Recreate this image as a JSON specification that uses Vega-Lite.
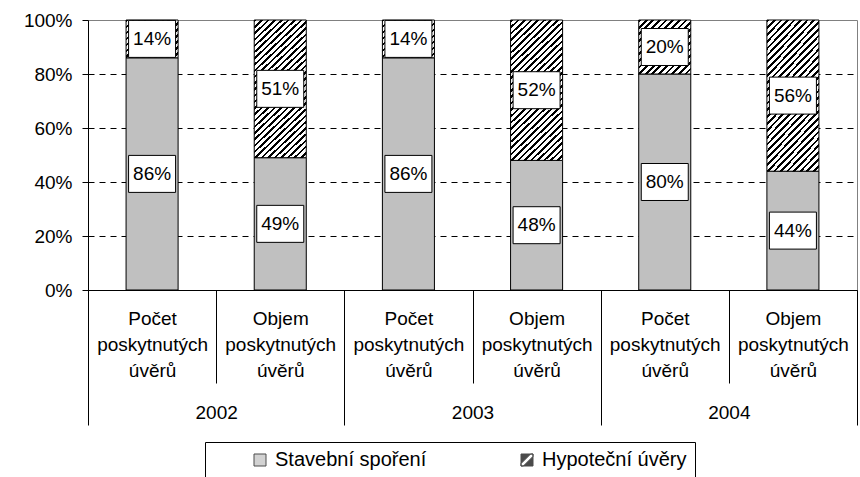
{
  "$schema": "https://vega.github.io/schema/vega-lite/v6.json",
  "width": 769,
  "height": 270,
  "autosize": {"type": "none"},
  "padding": {"left": 88, "top": 20, "right": 3, "bottom": 187},
  "config": {
    "view": {"stroke": "#808080"},
    "font": "Liberation Sans",
    "text": {"font": "Liberation Sans"}
  },
  "data": {
    "values": [
      {"year": "2002", "key": "2002|Počet poskytnutých úvěrů", "series": "Stavební spoření", "value": 86},
      {"year": "2002", "key": "2002|Počet poskytnutých úvěrů", "series": "Hypoteční úvěry", "value": 14},
      {"year": "2002", "key": "2002|Objem poskytnutých úvěrů", "series": "Stavební spoření", "value": 49},
      {"year": "2002", "key": "2002|Objem poskytnutých úvěrů", "series": "Hypoteční úvěry", "value": 51},
      {"year": "2003", "key": "2003|Počet poskytnutých úvěrů", "series": "Stavební spoření", "value": 86},
      {"year": "2003", "key": "2003|Počet poskytnutých úvěrů", "series": "Hypoteční úvěry", "value": 14},
      {"year": "2003", "key": "2003|Objem poskytnutých úvěrů", "series": "Stavební spoření", "value": 48},
      {"year": "2003", "key": "2003|Objem poskytnutých úvěrů", "series": "Hypoteční úvěry", "value": 52},
      {"year": "2004", "key": "2004|Počet poskytnutých úvěrů", "series": "Stavební spoření", "value": 80},
      {"year": "2004", "key": "2004|Počet poskytnutých úvěrů", "series": "Hypoteční úvěry", "value": 20},
      {"year": "2004", "key": "2004|Objem poskytnutých úvěrů", "series": "Stavební spoření", "value": 44},
      {"year": "2004", "key": "2004|Objem poskytnutých úvěrů", "series": "Hypoteční úvěry", "value": 56}
    ]
  },
  "transform": [
    {"stack": "value", "groupby": ["key"], "sort": [{"field": "series", "order": "descending"}], "as": ["y0", "y1"]},
    {"calculate": "(datum.y0 + datum.y1) / 2", "as": "mid"},
    {"calculate": "datum.value + '%'", "as": "label"}
  ],
  "layer": [
    {
      "mark": {"type": "bar", "width": {"band": 0.406}, "stroke": "#000", "strokeWidth": 1},
      "encoding": {
        "x": {
          "field": "key", "type": "nominal", "sort": null,
          "scale": {"paddingInner": 0, "paddingOuter": 0},
          "axis": {
            "title": null, "orient": "bottom", "labelAngle": 0,
            "domainColor": "#000", "tickColor": "#000", "tickBand": "extent",
            "tickSize": 93, "labelPadding": -74,
            "labelExpr": "isString(datum.value) ? split(split(datum.value, '|')[1], ' ') : ''",
            "labelFont": "Liberation Sans", "labelFontSize": 19, "labelLineHeight": 26,
            "labelColor": "#000", "labelLimit": 300
          }
        },
        "y": {
          "field": "y0", "type": "quantitative",
          "scale": {"domain": [0, 100]},
          "axis": {
            "title": null, "values": [0, 20, 40, 60, 80, 100],
            "labelExpr": "datum.value + '%'",
            "tickSize": 6, "tickColor": "#000", "domainColor": "#000",
            "labelPadding": 10, "labelFont": "Liberation Sans", "labelFontSize": 19, "labelColor": "#000",
            "grid": true, "gridColor": "#000", "gridDash": [6, 5],
            "gridOpacity": {"condition": {"test": "datum.value === 0 || datum.value === 100", "value": 0}, "value": 1}
          }
        },
        "y2": {"field": "y1"},
        "fill": {
          "field": "series", "type": "nominal",
          "scale": {"domain": ["Stavební spoření", "Hypoteční úvěry"], "range": ["#c0c0c0", "#000000"]},
          "legend": {
            "title": null,
            "orient": "none", "legendX": 117, "legendY": 422, "direction": "horizontal",
            "strokeColor": "#000", "fillColor": "#fff", "padding": 8,
            "symbolSize": 144, "symbolStrokeColor": "#000", "symbolStrokeWidth": 1,
            "symbolOffset": 37, "labelOffset": 5, "columnPadding": 53,
            "labelFont": "Liberation Sans", "labelFontSize": 20, "labelColor": "#000", "labelLimit": 400
          },
          "condition": [
            {
              "test": "datum.series === 'Hypoteční úvěry' && datum.value < 17",
              "value": {"gradient": "linear", "x1": 0, "y1": 0, "x2": 1.13, "y2": 0.821, "stops": [
                {"offset":0,"color":"#000"},{"offset":0.0267,"color":"#000"},{"offset":0.0267,"color":"#fff"},{"offset":0.0667,"color":"#fff"},
                {"offset":0.0667,"color":"#000"},{"offset":0.0933,"color":"#000"},{"offset":0.0933,"color":"#fff"},{"offset":0.1333,"color":"#fff"},
                {"offset":0.1333,"color":"#000"},{"offset":0.16,"color":"#000"},{"offset":0.16,"color":"#fff"},{"offset":0.2,"color":"#fff"},
                {"offset":0.2,"color":"#000"},{"offset":0.2267,"color":"#000"},{"offset":0.2267,"color":"#fff"},{"offset":0.2667,"color":"#fff"},
                {"offset":0.2667,"color":"#000"},{"offset":0.2933,"color":"#000"},{"offset":0.2933,"color":"#fff"},{"offset":0.3333,"color":"#fff"},
                {"offset":0.3333,"color":"#000"},{"offset":0.36,"color":"#000"},{"offset":0.36,"color":"#fff"},{"offset":0.4,"color":"#fff"},
                {"offset":0.4,"color":"#000"},{"offset":0.4267,"color":"#000"},{"offset":0.4267,"color":"#fff"},{"offset":0.4667,"color":"#fff"},
                {"offset":0.4667,"color":"#000"},{"offset":0.4933,"color":"#000"},{"offset":0.4933,"color":"#fff"},{"offset":0.5333,"color":"#fff"},
                {"offset":0.5333,"color":"#000"},{"offset":0.56,"color":"#000"},{"offset":0.56,"color":"#fff"},{"offset":0.6,"color":"#fff"},
                {"offset":0.6,"color":"#000"},{"offset":0.6267,"color":"#000"},{"offset":0.6267,"color":"#fff"},{"offset":0.6667,"color":"#fff"},
                {"offset":0.6667,"color":"#000"},{"offset":0.6933,"color":"#000"},{"offset":0.6933,"color":"#fff"},{"offset":0.7333,"color":"#fff"},
                {"offset":0.7333,"color":"#000"},{"offset":0.76,"color":"#000"},{"offset":0.76,"color":"#fff"},{"offset":0.8,"color":"#fff"},
                {"offset":0.8,"color":"#000"},{"offset":0.8267,"color":"#000"},{"offset":0.8267,"color":"#fff"},{"offset":0.8667,"color":"#fff"},
                {"offset":0.8667,"color":"#000"},{"offset":0.8933,"color":"#000"},{"offset":0.8933,"color":"#fff"},{"offset":0.9333,"color":"#fff"},
                {"offset":0.9333,"color":"#000"},{"offset":0.96,"color":"#000"},{"offset":0.96,"color":"#fff"},{"offset":1,"color":"#fff"}
              ]}
            },
            {
              "test": "datum.series === 'Hypoteční úvěry' && datum.value < 30",
              "value": {"gradient": "linear", "x1": 0, "y1": 0, "x2": 0.981, "y2": 1.018, "stops": [
                {"offset":0,"color":"#000"},{"offset":0.025,"color":"#000"},{"offset":0.025,"color":"#fff"},{"offset":0.0625,"color":"#fff"},
                {"offset":0.0625,"color":"#000"},{"offset":0.0875,"color":"#000"},{"offset":0.0875,"color":"#fff"},{"offset":0.125,"color":"#fff"},
                {"offset":0.125,"color":"#000"},{"offset":0.15,"color":"#000"},{"offset":0.15,"color":"#fff"},{"offset":0.1875,"color":"#fff"},
                {"offset":0.1875,"color":"#000"},{"offset":0.2125,"color":"#000"},{"offset":0.2125,"color":"#fff"},{"offset":0.25,"color":"#fff"},
                {"offset":0.25,"color":"#000"},{"offset":0.275,"color":"#000"},{"offset":0.275,"color":"#fff"},{"offset":0.3125,"color":"#fff"},
                {"offset":0.3125,"color":"#000"},{"offset":0.3375,"color":"#000"},{"offset":0.3375,"color":"#fff"},{"offset":0.375,"color":"#fff"},
                {"offset":0.375,"color":"#000"},{"offset":0.4,"color":"#000"},{"offset":0.4,"color":"#fff"},{"offset":0.4375,"color":"#fff"},
                {"offset":0.4375,"color":"#000"},{"offset":0.4625,"color":"#000"},{"offset":0.4625,"color":"#fff"},{"offset":0.5,"color":"#fff"},
                {"offset":0.5,"color":"#000"},{"offset":0.525,"color":"#000"},{"offset":0.525,"color":"#fff"},{"offset":0.5625,"color":"#fff"},
                {"offset":0.5625,"color":"#000"},{"offset":0.5875,"color":"#000"},{"offset":0.5875,"color":"#fff"},{"offset":0.625,"color":"#fff"},
                {"offset":0.625,"color":"#000"},{"offset":0.65,"color":"#000"},{"offset":0.65,"color":"#fff"},{"offset":0.6875,"color":"#fff"},
                {"offset":0.6875,"color":"#000"},{"offset":0.7125,"color":"#000"},{"offset":0.7125,"color":"#fff"},{"offset":0.75,"color":"#fff"},
                {"offset":0.75,"color":"#000"},{"offset":0.775,"color":"#000"},{"offset":0.775,"color":"#fff"},{"offset":0.8125,"color":"#fff"},
                {"offset":0.8125,"color":"#000"},{"offset":0.8375,"color":"#000"},{"offset":0.8375,"color":"#fff"},{"offset":0.875,"color":"#fff"},
                {"offset":0.875,"color":"#000"},{"offset":0.9,"color":"#000"},{"offset":0.9,"color":"#fff"},{"offset":0.9375,"color":"#fff"},
                {"offset":0.9375,"color":"#000"},{"offset":0.9625,"color":"#000"},{"offset":0.9625,"color":"#fff"},{"offset":1,"color":"#fff"}
              ]}
            },
            {
              "test": "datum.series === 'Hypoteční úvěry'",
              "value": {"gradient": "linear", "x1": 0, "y1": 0, "x2": 0.432, "y2": 1.204, "stops": [
                {"offset":0,"color":"#000"},{"offset":0.0133,"color":"#000"},{"offset":0.0133,"color":"#fff"},{"offset":0.0333,"color":"#fff"},
                {"offset":0.0333,"color":"#000"},{"offset":0.0467,"color":"#000"},{"offset":0.0467,"color":"#fff"},{"offset":0.0667,"color":"#fff"},
                {"offset":0.0667,"color":"#000"},{"offset":0.08,"color":"#000"},{"offset":0.08,"color":"#fff"},{"offset":0.1,"color":"#fff"},
                {"offset":0.1,"color":"#000"},{"offset":0.1133,"color":"#000"},{"offset":0.1133,"color":"#fff"},{"offset":0.1333,"color":"#fff"},
                {"offset":0.1333,"color":"#000"},{"offset":0.1467,"color":"#000"},{"offset":0.1467,"color":"#fff"},{"offset":0.1667,"color":"#fff"},
                {"offset":0.1667,"color":"#000"},{"offset":0.18,"color":"#000"},{"offset":0.18,"color":"#fff"},{"offset":0.2,"color":"#fff"},
                {"offset":0.2,"color":"#000"},{"offset":0.2133,"color":"#000"},{"offset":0.2133,"color":"#fff"},{"offset":0.2333,"color":"#fff"},
                {"offset":0.2333,"color":"#000"},{"offset":0.2467,"color":"#000"},{"offset":0.2467,"color":"#fff"},{"offset":0.2667,"color":"#fff"},
                {"offset":0.2667,"color":"#000"},{"offset":0.28,"color":"#000"},{"offset":0.28,"color":"#fff"},{"offset":0.3,"color":"#fff"},
                {"offset":0.3,"color":"#000"},{"offset":0.3133,"color":"#000"},{"offset":0.3133,"color":"#fff"},{"offset":0.3333,"color":"#fff"},
                {"offset":0.3333,"color":"#000"},{"offset":0.3467,"color":"#000"},{"offset":0.3467,"color":"#fff"},{"offset":0.3667,"color":"#fff"},
                {"offset":0.3667,"color":"#000"},{"offset":0.38,"color":"#000"},{"offset":0.38,"color":"#fff"},{"offset":0.4,"color":"#fff"},
                {"offset":0.4,"color":"#000"},{"offset":0.4133,"color":"#000"},{"offset":0.4133,"color":"#fff"},{"offset":0.4333,"color":"#fff"},
                {"offset":0.4333,"color":"#000"},{"offset":0.4467,"color":"#000"},{"offset":0.4467,"color":"#fff"},{"offset":0.4667,"color":"#fff"},
                {"offset":0.4667,"color":"#000"},{"offset":0.48,"color":"#000"},{"offset":0.48,"color":"#fff"},{"offset":0.5,"color":"#fff"},
                {"offset":0.5,"color":"#000"},{"offset":0.5133,"color":"#000"},{"offset":0.5133,"color":"#fff"},{"offset":0.5333,"color":"#fff"},
                {"offset":0.5333,"color":"#000"},{"offset":0.5467,"color":"#000"},{"offset":0.5467,"color":"#fff"},{"offset":0.5667,"color":"#fff"},
                {"offset":0.5667,"color":"#000"},{"offset":0.58,"color":"#000"},{"offset":0.58,"color":"#fff"},{"offset":0.6,"color":"#fff"},
                {"offset":0.6,"color":"#000"},{"offset":0.6133,"color":"#000"},{"offset":0.6133,"color":"#fff"},{"offset":0.6333,"color":"#fff"},
                {"offset":0.6333,"color":"#000"},{"offset":0.6467,"color":"#000"},{"offset":0.6467,"color":"#fff"},{"offset":0.6667,"color":"#fff"},
                {"offset":0.6667,"color":"#000"},{"offset":0.68,"color":"#000"},{"offset":0.68,"color":"#fff"},{"offset":0.7,"color":"#fff"},
                {"offset":0.7,"color":"#000"},{"offset":0.7133,"color":"#000"},{"offset":0.7133,"color":"#fff"},{"offset":0.7333,"color":"#fff"},
                {"offset":0.7333,"color":"#000"},{"offset":0.7467,"color":"#000"},{"offset":0.7467,"color":"#fff"},{"offset":0.7667,"color":"#fff"},
                {"offset":0.7667,"color":"#000"},{"offset":0.78,"color":"#000"},{"offset":0.78,"color":"#fff"},{"offset":0.8,"color":"#fff"},
                {"offset":0.8,"color":"#000"},{"offset":0.8133,"color":"#000"},{"offset":0.8133,"color":"#fff"},{"offset":0.8333,"color":"#fff"},
                {"offset":0.8333,"color":"#000"},{"offset":0.8467,"color":"#000"},{"offset":0.8467,"color":"#fff"},{"offset":0.8667,"color":"#fff"},
                {"offset":0.8667,"color":"#000"},{"offset":0.88,"color":"#000"},{"offset":0.88,"color":"#fff"},{"offset":0.9,"color":"#fff"},
                {"offset":0.9,"color":"#000"},{"offset":0.9133,"color":"#000"},{"offset":0.9133,"color":"#fff"},{"offset":0.9333,"color":"#fff"},
                {"offset":0.9333,"color":"#000"},{"offset":0.9467,"color":"#000"},{"offset":0.9467,"color":"#fff"},{"offset":0.9667,"color":"#fff"},
                {"offset":0.9667,"color":"#000"},{"offset":0.98,"color":"#000"},{"offset":0.98,"color":"#fff"},{"offset":1,"color":"#fff"}
              ]}
            }
          ]
        }
      }
    },
    {
      "mark": {"type": "point", "shape": "M-1,-0.787H1V0.787H-1Z", "size": 2209, "filled": true, "fill": "#fff", "stroke": "#000", "strokeWidth": 1, "opacity": 1},
      "encoding": {
        "x": {"field": "key", "type": "nominal", "sort": null, "scale": {"paddingInner": 0, "paddingOuter": 0}, "axis": null},
        "y": {"field": "mid", "type": "quantitative"}
      }
    },
    {
      "mark": {"type": "text", "font": "Liberation Sans", "fontSize": 19, "color": "#000", "baseline": "middle", "align": "center"},
      "encoding": {
        "x": {"field": "key", "type": "nominal", "sort": null, "scale": {"paddingInner": 0, "paddingOuter": 0}, "axis": null},
        "y": {"field": "mid", "type": "quantitative"},
        "text": {"field": "label", "type": "nominal"}
      }
    },
    {
      "mark": {"type": "point", "filled": true, "size": 0},
      "encoding": {
        "x": {"field": "key", "type": "nominal", "sort": null, "scale": {"paddingInner": 0, "paddingOuter": 0}, "axis": null},
        "y": {"field": "mid", "type": "quantitative"},
        "fill": {
          "field": "series", "type": "nominal",
          "legend": {
            "title": null,
            "orient": "none", "legendX": 117, "legendY": 422, "direction": "horizontal",
            "strokeColor": "#000", "fillColor": "#fff", "padding": 8,
            "symbolSize": 144, "symbolStrokeColor": "#000", "symbolStrokeWidth": 1,
            "symbolOffset": 37, "labelOffset": 5, "columnPadding": 53,
            "labelFont": "Liberation Sans", "labelFontSize": 20, "labelColor": "#000", "labelLimit": 400
          }
        },
        "shape": {
          "field": "series", "type": "nominal",
          "scale": {"domain": ["Stavební spoření", "Hypoteční úvěry"], "range": ["square", "M-1,-1H1V1H-1Z M-1,1L-0.6,1L1,-0.6L1,-1L0.6,-1L-1,0.6Z"]},
          "legend": {
            "title": null,
            "orient": "none", "legendX": 117, "legendY": 422, "direction": "horizontal",
            "strokeColor": "#000", "fillColor": "#fff", "padding": 8,
            "symbolSize": 144, "symbolStrokeColor": "#000", "symbolStrokeWidth": 1,
            "symbolOffset": 37, "labelOffset": 5, "columnPadding": 53,
            "labelFont": "Liberation Sans", "labelFontSize": 20, "labelColor": "#000", "labelLimit": 400
          }
        }
      }
    },
    {
      "mark": {"type": "rule", "opacity": 0},
      "encoding": {
        "x": {
          "field": "year", "type": "nominal", "sort": null,
          "scale": {"paddingInner": 0, "paddingOuter": 0},
          "axis": {
            "title": null, "orient": "bottom", "labelAngle": 0, "domain": false,
            "tickColor": "#000", "tickBand": "extent", "tickSize": 135, "labelPadding": -22,
            "labelExpr": "isString(datum.value) ? datum.label : ''",
            "labelFont": "Liberation Sans", "labelFontSize": 19, "labelColor": "#000"
          }
        }
      }
    }
  ],
  "resolve": {"scale": {"x": "independent"}, "axis": {"x": "independent"}}
}
